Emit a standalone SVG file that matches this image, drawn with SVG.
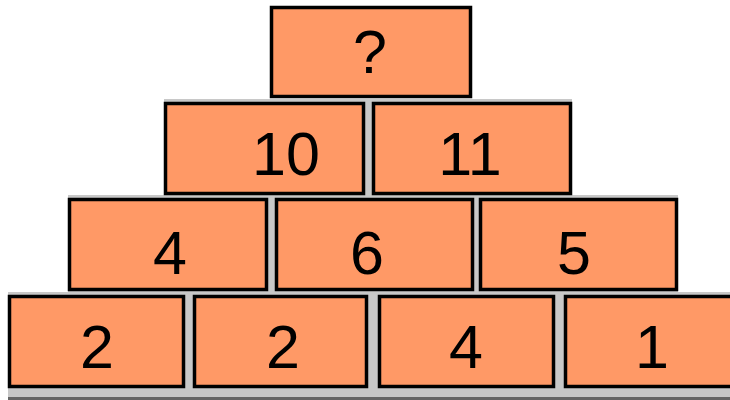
<svg xmlns="http://www.w3.org/2000/svg" width="730" height="400" viewBox="0 0 730 400">
  <style>
    .slab { fill: #c8c8c8; }
    .brick { fill: #ff9966; stroke: #000; stroke-width: 3.5; }
    .lbl { font-family: "Liberation Sans", Arial, sans-serif; font-size: 61px; fill: #000; text-anchor: middle; }
  </style>
  <rect width="730" height="400" fill="#fff"/>
  <g id="slabs">
    <rect class="slab" x="164" y="99" width="408" height="99"/>
    <rect class="slab" x="68" y="195" width="610" height="100"/>
    <rect class="slab" x="8" y="292" width="722" height="106"/>
    <rect x="8" y="397" width="722" height="3" fill="#666"/>
  </g>
  <g id="top">
    <rect class="brick" x="271.5" y="7.5" width="199" height="89"/>
    <text class="lbl" x="370" y="73">?</text>
  </g>
  <g id="r2a">
    <rect class="brick" x="165.5" y="103.5" width="198" height="90"/>
    <text class="lbl" x="286" y="175">10</text>
  </g>
  <g id="r2b">
    <rect class="brick" x="373.5" y="103.5" width="197" height="90"/>
    <text class="lbl" x="470" y="175">11</text>
  </g>
  <g id="r3a">
    <rect class="brick" x="69.5" y="199.5" width="197" height="90"/>
    <text class="lbl" x="170" y="274">4</text>
  </g>
  <g id="r3b">
    <rect class="brick" x="276.5" y="199.5" width="196" height="90"/>
    <text class="lbl" x="367" y="274">6</text>
  </g>
  <g id="r3c">
    <rect class="brick" x="480.5" y="199.5" width="196" height="90"/>
    <text class="lbl" x="574" y="274">5</text>
  </g>
  <g id="r4a">
    <rect class="brick" x="9.5" y="296.5" width="174" height="90"/>
    <text class="lbl" x="97" y="368">2</text>
  </g>
  <g id="r4b">
    <rect class="brick" x="194.5" y="296.5" width="172" height="90"/>
    <text class="lbl" x="283" y="368">2</text>
  </g>
  <g id="r4c">
    <rect class="brick" x="379.5" y="296.5" width="174" height="90"/>
    <text class="lbl" x="466" y="368">4</text>
  </g>
  <g id="r4d">
    <rect class="brick" x="565.5" y="296.5" width="170" height="90"/>
    <text class="lbl" x="652" y="368">1</text>
  </g>
</svg>
